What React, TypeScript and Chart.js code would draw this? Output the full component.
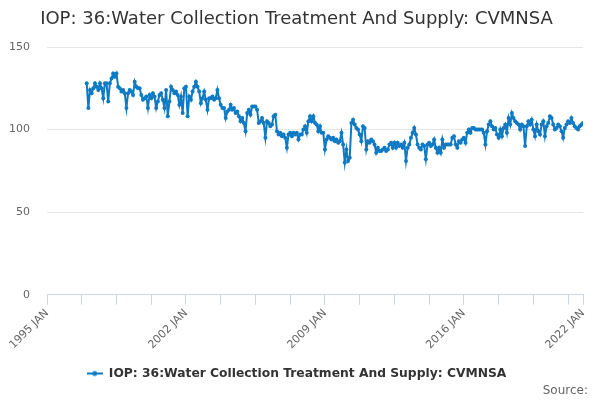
import React, { useEffect, useRef } from 'react';
import Chart from 'chart.js/auto';

// --- chart data ---
const TITLE = 'IOP: 36:Water Collection Treatment And Supply: CVMNSA';
const SERIES_NAME = 'IOP: 36:Water Collection Treatment And Supply: CVMNSA';
const SOURCE = 'Source:';

const MONTHS = ['JAN', 'FEB', 'MAR', 'APR', 'MAY', 'JUN', 'JUL', 'AUG', 'SEP', 'OCT', 'NOV', 'DEC'];
const AXIS_FIRST_YEAR = 1995;
const AXIS_LAST_YEAR = 2022; // axis ends at 2022 JAN
const SERIES_START = '1997 JAN';

// monthly index values, 1997 JAN .. 2022 JAN
const values = [
  128, 113, 124, 122, 125, 128, 126, 124, 128, 125, 119, 128, // 1997
  128, 117, 128, 131, 134, 132, 134, 126, 125, 123, 124, 122, // 1998
  113, 122, 124, 123, 121, 129, 126, 125, 125, 121, 118, 119, // 1999
  120, 113, 121, 119, 122, 120, 113, 117, 121, 122, 118, 113, // 2000
  124, 108, 117, 126, 124, 122, 123, 121, 115, 120, 110, 125, // 2001
  126, 108, 120, 118, 123, 126, 129, 126, 123, 116, 119, 123, // 2002
  118, 112, 119, 119, 120, 118, 119, 124, 119, 115, 113, 113, // 2003
  107, 111, 112, 115, 112, 113, 110, 111, 108, 105, 107, 104, // 2004
  99, 110, 112, 109, 114, 114, 114, 112, 104, 105, 107, 104, // 2005
  95, 105, 104, 102, 103, 108, 109, 99, 97, 98, 96, 97, // 2006
  95, 89, 97, 98, 96, 98, 97, 98, 94, 97, 97, 100, // 2007
  102, 98, 105, 108, 105, 108, 104, 103, 99, 102, 98, 98, // 2008
  88, 94, 96, 95, 94, 95, 93, 94, 92, 93, 98, 91, // 2009
  80, 88, 81, 83, 104, 106, 103, 101, 100, 97, 93, 102, // 2010
  101, 88, 93, 92, 94, 93, 91, 86, 89, 87, 87, 88, // 2011
  89, 87, 88, 91, 92, 89, 92, 89, 92, 90, 91, 89, // 2012
  92, 81, 89, 91, 95, 98, 101, 97, 91, 89, 88, 91, // 2013
  90, 82, 91, 92, 90, 91, 94, 89, 86, 89, 86, 94, // 2014
  89, 91, 91, 91, 91, 95, 96, 91, 89, 93, 92, 94, // 2015
  95, 92, 98, 100, 98, 101, 101, 100, 100, 100, 100, 100, // 2016
  98, 91, 99, 103, 105, 102, 100, 101, 97, 95, 100, 96, // 2017
  101, 103, 98, 107, 103, 110, 107, 105, 104, 103, 100, 103, // 2018
  102, 90, 102, 105, 103, 106, 100, 96, 103, 99, 97, 103, // 2019
  105, 96, 102, 104, 108, 107, 103, 100, 101, 103, 102, 99, // 2020
  95, 101, 103, 105, 104, 107, 104, 102, 101, 100, 102, 103, // 2021
  104, // 2022
];

const yTicks = [0, 50, 100, 150];
const xTickStep = 21; // months between axis tick marks
const xLabels = ['1995 JAN', '2002 JAN', '2009 JAN', '2016 JAN', '2022 JAN'];

// month categories along the x axis
const categories: string[] = [];
for (let y = AXIS_FIRST_YEAR; y <= AXIS_LAST_YEAR; y++) {
  for (let m = 0; m < 12; m++) {
    if (y === AXIS_LAST_YEAR && m > 0) break;
    categories.push(`${y} ${MONTHS[m]}`);
  }
}

const LINE_COLOR = '#0f7ac4';
const FONT = 'DejaVu Sans';

// small line + dot symbol for the legend
function legendSymbol() {
  const c = document.createElement('canvas');
  c.width = 16;
  c.height = 8;
  const ctx = c.getContext('2d')!;
  ctx.strokeStyle = LINE_COLOR;
  ctx.lineWidth = 2;
  ctx.beginPath();
  ctx.moveTo(0, 4);
  ctx.lineTo(16, 4);
  ctx.stroke();
  ctx.fillStyle = LINE_COLOR;
  ctx.beginPath();
  ctx.arc(8, 4, 2.5, 0, Math.PI * 2);
  ctx.fill();
  return c;
}

export default function App() {
  const canvasRef = useRef<HTMLCanvasElement>(null);

  useEffect(() => {
    document.body.style.margin = '0';
    if (!canvasRef.current) return;

    const start = categories.indexOf(SERIES_START);
    const points = values.map((v, k) => ({ x: start + k, y: v }));
    const last = categories.length - 1;
    const tickIdx: number[] = [];
    for (let i = 0; i < last; i += xTickStep) tickIdx.push(i);
    tickIdx.push(last);

    const chart = new Chart(canvasRef.current, {
      type: 'line',
      data: {
        datasets: [
          {
            label: SERIES_NAME,
            data: points,
            borderColor: LINE_COLOR,
            backgroundColor: LINE_COLOR,
            borderWidth: 2,
            pointRadius: 2,
            pointBorderWidth: 0,
            pointBackgroundColor: LINE_COLOR,
            tension: 0,
          },
        ],
      },
      options: {
        animation: false,
        responsive: true,
        maintainAspectRatio: false,
        layout: { padding: { left: 10, right: 17, top: 9, bottom: 10.4 } },
        scales: {
          x: {
            type: 'linear',
            min: 0,
            max: last,
            afterBuildTicks: (scale: any) => {
              scale.ticks = tickIdx.map((v) => ({ value: v }));
            },
            afterFit: (scale: any) => {
              // rotated first label may hang past the y labels
              scale.paddingLeft = 0;
              scale.height += 13.7;
            },
            ticks: {
              autoSkip: false,
              minRotation: 45,
              maxRotation: 45,
              color: '#666',
              font: { family: FONT, size: 11 },
              padding: 2,
              callback: (v: any) => (xLabels.includes(categories[v]) ? categories[v] : ''),
            },
            grid: { drawOnChartArea: false, drawTicks: true, tickLength: 10, color: '#ccd6eb', tickColor: '#ccd6eb' },
            border: { color: '#ccd6eb' },
          },
          y: {
            min: yTicks[0],
            max: yTicks[yTicks.length - 1],
            afterBuildTicks: (scale: any) => {
              scale.ticks = yTicks.map((v) => ({ value: v }));
            },
            afterFit: (scale: any) => {
              scale.width = 37;
            },
            ticks: { color: '#666', font: { family: FONT, size: 11 }, padding: 17 },
            grid: { color: '#e6e6e6', drawTicks: false },
            border: { display: false },
          },
        },
        plugins: {
          title: {
            display: true,
            text: TITLE,
            color: '#333',
            font: { family: FONT, size: 18, weight: 'normal' },
            padding: { top: 0, bottom: 16.4 },
          },
          legend: {
            position: 'bottom',
            labels: {
              usePointStyle: true,
              pointStyle: legendSymbol(),
              pointStyleWidth: 16,
              color: '#333',
              font: { family: FONT, size: 12.3, weight: 'bold' },
              padding: 0,
            },
          },
          tooltip: { enabled: false },
        },
      },
    });

    return () => chart.destroy();
  }, []);

  return (
    <div style={{ width: 600, height: 400, position: 'relative' }}>
      <canvas ref={canvasRef} />
      <div
        style={{
          position: 'absolute',
          right: 12,
          top: 383,
          fontFamily: FONT,
          fontSize: 12,
          lineHeight: '14px',
          color: '#666',
        }}
      >
        {SOURCE}
      </div>
    </div>
  );
}
